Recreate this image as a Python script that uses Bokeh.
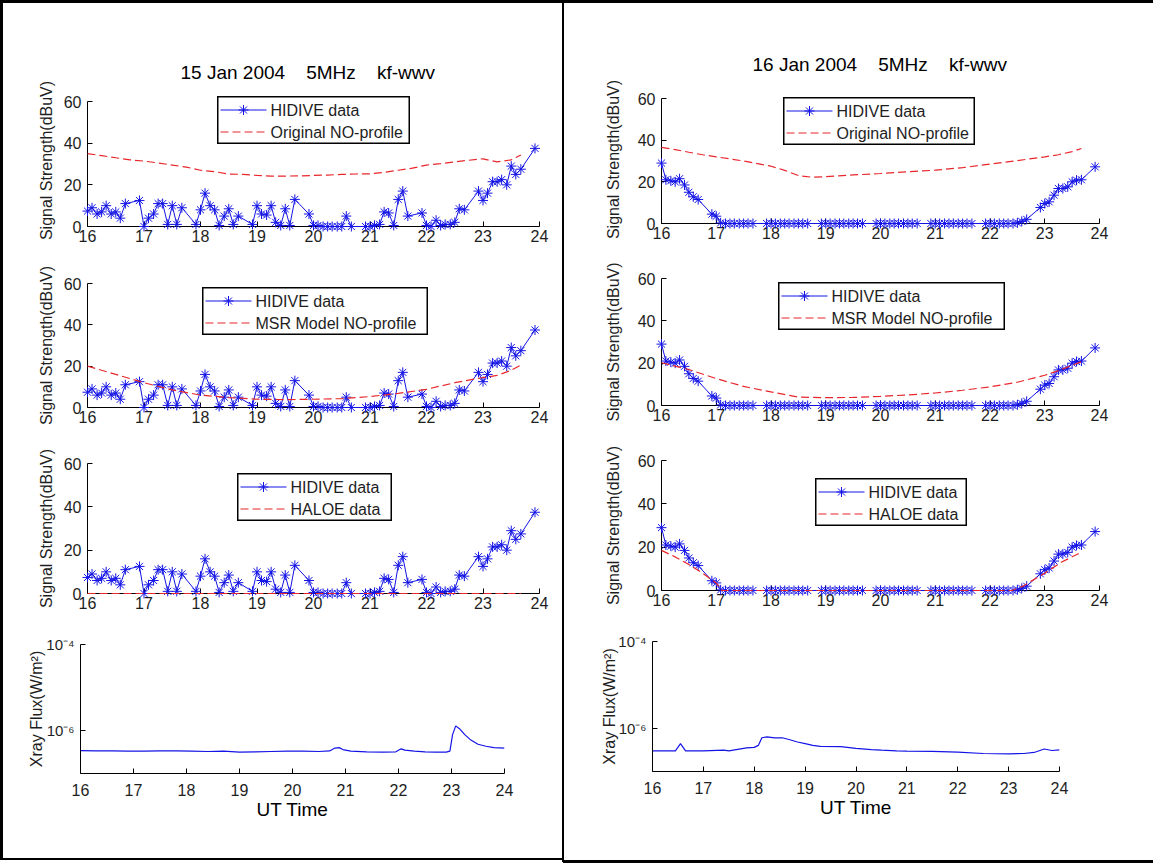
from bokeh.plotting import figure
from bokeh.models import Range1d, FixedTicker, CustomJSTickFormatter, Div
from bokeh.core.properties import value
from bokeh.embed import file_html
from bokeh.resources import INLINE

FONT = "Liberation Sans"
BLUE = "#1414e6"
RED = "#e8262b"
TXT = "#1e1e1e"

hour_ticks = [16, 17, 18, 19, 20, 21, 22, 23, 24]
signal_ticks = [0, 20, 40, 60]
xray_ticks = [1e-6, 1e-4]

titles = ["15 Jan 2004\u00a0\u00a0\u00a0\u00a05MHz\u00a0\u00a0\u00a0\u00a0kf-wwv",
          "16 Jan 2004\u00a0\u00a0\u00a0\u00a05MHz\u00a0\u00a0\u00a0\u00a0kf-wwv"]
signal_label = "Signal Strength(dBuV)"
xray_label = "Xray Flux(W/m\u00b2)"
time_label = "UT Time"
data_name = "HIDIVE data"
model_names = ["Original NO-profile", "MSR Model NO-profile", "HALOE data"]

# HIDIVE sample times (UT hours)
hidive_time = [
    16.00, 16.08, 16.17, 16.25, 16.33, 16.42, 16.50, 16.58, 16.67, 16.92,
    17.00, 17.08, 17.17, 17.25, 17.33, 17.42, 17.50, 17.58, 17.67, 17.92,
    18.00, 18.08, 18.17, 18.25, 18.33, 18.42, 18.50, 18.58, 18.67, 18.92,
    19.00, 19.08, 19.17, 19.25, 19.33, 19.42, 19.50, 19.58, 19.67, 19.92,
    20.00, 20.08, 20.17, 20.25, 20.33, 20.42, 20.50, 20.58, 20.67, 20.92,
    21.00, 21.08, 21.17, 21.25, 21.33, 21.42, 21.50, 21.58, 21.67, 21.92,
    22.00, 22.08, 22.17, 22.25, 22.33, 22.42, 22.50, 22.58, 22.67, 22.92,
    23.00, 23.08, 23.17, 23.25, 23.33, 23.42, 23.50, 23.58, 23.67, 23.92,
]
hidive_jan15 = [
    7.4, 9, 6, 7, 10, 6, 7, 4, 11, 12.5,
    0, 4, 6, 11, 11, 1, 10, 1, 9, 1,
    8, 16, 10, 8, 0.5, 5, 8.5, 1, 5, 1,
    10, 6, 5.5, 10, 2, 0.5, 8.5, 0.5, 13, 6,
    0.5, 0.5, 0, 0, 0, 0, 0, 5, 0, 0,
    0, 0.5, 1, 7, 6.5, 0.5, 13, 17, 5, 6.5,
    0.5, 0, 3, 0.5, 1, 1, 2, 8.5, 8, 17,
    12.5, 16, 21.5, 21.5, 22.5, 20, 29, 25, 27.5, 37.5,
]
hidive_jan16 = [
    29, 21, 20.5, 20, 21.5, 18.5, 15, 12.8, 11.5, 4.5,
    3.5, 0.3, 0, 0, 0, 0, 0, 0, 0, 0,
    0, 0, 0, 0, 0, 0, 0, 0, 0, 0,
    0, 0, 0, 0, 0, 0, 0, 0, 0, 0,
    0, 0, 0, 0, 0, 0, 0, 0, 0, 0,
    0, 0, 0, 0, 0, 0, 0, 0, 0, 0,
    0, 0, 0, 0, 0, 0, 0.3, 1, 2, 7.7,
    9.6, 10.4, 13.6, 16.8, 16.8, 17.6, 20, 20.8, 21, 27.2,
]

orig_time_jan15 = [16.0, 16.25, 16.5, 16.75, 17.0, 17.25, 17.5, 17.75, 18.0, 18.25, 18.5, 18.75,
                   19.0, 19.25, 19.5, 19.75, 20.0, 20.25, 20.5, 20.75, 21.0, 21.25, 21.5, 21.75,
                   22.0, 22.25, 22.5, 22.75, 23.0, 23.25, 23.5, 23.67]
orig_jan15 = [35, 34, 33, 32, 31.4, 30.5, 29.5, 28.5, 27, 26.3, 25.2, 25,
              24.5, 24.2, 24.2, 24.3, 24.5, 24.7, 25, 25.2, 25.3, 26, 27, 28,
              29.5, 30.2, 31, 31.8, 32.5, 31, 32, 34.3]
msr_time_jan15 = [16, 16.5, 17, 17.5, 18, 18.5, 19, 19.5, 20, 20.5, 21, 21.5, 22, 22.5, 23, 23.25, 23.5, 23.67]
msr_jan15 = [20, 16, 12, 8.5, 6, 4.8, 4, 3.8, 4, 4.3, 5.3, 6.8, 8.8, 12, 14.5, 15.5, 18, 20.5]
haloe_time_jan15 = [16.0, 20.0, 23.67]
haloe_jan15 = [0, 0, 0]

orig_time_jan16 = [16, 16.25, 16.5, 16.75, 17, 17.5, 18, 18.25, 18.5, 18.75, 19, 19.5, 20, 20.5,
                   21, 21.5, 22, 22.5, 23, 23.25, 23.5, 23.67]
orig_jan16 = [36.5, 35.5, 34.2, 33, 32, 30, 27.5, 25.5, 23, 22.2, 22.5, 23.3, 24, 24.8,
              25.6, 26.8, 28.5, 30.2, 32, 33, 34.5, 36]
msr_time_jan16 = [16, 16.5, 17, 17.5, 18, 18.5, 19, 19.5, 20, 20.5, 21, 21.5, 22, 22.5, 23, 23.25, 23.5, 23.67]
msr_jan16 = [20.2, 17, 12.7, 9, 6.4, 4, 3.7, 3.8, 4.3, 5, 5.9, 7.2, 8.8, 11, 14.3, 16.5, 19, 20.7]
haloe_time_jan16 = [16, 16.25, 16.5, 16.75, 17, 17.1, 22.4, 22.6, 23, 23.3, 23.67]
haloe_jan16 = [18.5, 15.5, 12, 8, 3.5, 0, 0, 2, 8, 13, 17.7]

xray_time_jan15 = [16.0, 16.3, 16.6, 16.9, 17.2, 17.5, 17.8, 18.1, 18.4, 18.7, 19.0, 19.3, 19.6, 19.9,
                   20.2, 20.5, 20.7, 20.8, 20.88, 20.95, 21.1, 21.4, 21.7, 21.95, 22.05, 22.12, 22.3,
                   22.5, 22.7, 22.9, 22.97, 23.02, 23.08, 23.15, 23.25, 23.35, 23.5, 23.65, 23.8, 24.0]
xray_jan15 = [3.4e-7, 3.35e-7, 3.35e-7, 3.3e-7, 3.3e-7, 3.35e-7, 3.35e-7, 3.3e-7, 3.25e-7, 3.3e-7,
              3.15e-7, 3.2e-7, 3.25e-7, 3.3e-7, 3.3e-7, 3.25e-7, 3.35e-7, 3.9e-7, 4.0e-7, 3.6e-7,
              3.3e-7, 3.2e-7, 3.15e-7, 3.2e-7, 3.75e-7, 3.5e-7, 3.3e-7, 3.2e-7, 3.15e-7, 3.15e-7,
              3.3e-7, 8e-7, 1.28e-6, 1.1e-6, 8e-7, 6.2e-7, 4.8e-7, 4.3e-7, 4.0e-7, 3.9e-7]
xray_time_jan16 = [16.0, 16.3, 16.45, 16.55, 16.65, 17.0, 17.4, 17.5, 17.85, 18.0, 18.08, 18.15, 18.25,
                   18.4, 18.55, 18.7, 18.85, 19.0, 19.15, 19.3, 19.7, 20.0, 20.3, 20.5, 20.8, 21.0,
                   21.5, 22.0, 22.5, 23.0, 23.3, 23.5, 23.7, 23.85, 24.0]
xray_jan16 = [3.0e-7, 3.0e-7, 3.0e-7, 4.4e-7, 3.0e-7, 3.0e-7, 3.1e-7, 3.0e-7, 3.5e-7, 3.6e-7,
              4.0e-7, 6.0e-7, 6.3e-7, 6.0e-7, 6.0e-7, 5.4e-7, 4.8e-7, 4.4e-7, 4.0e-7, 3.8e-7,
              3.75e-7, 3.4e-7, 3.2e-7, 3.1e-7, 3.0e-7, 2.95e-7, 2.9e-7, 2.8e-7, 2.6e-7, 2.55e-7,
              2.6e-7, 2.75e-7, 3.3e-7, 3.05e-7, 3.15e-7]

SUP_JS = """
const e = Math.round(Math.log10(tick));
const sup = {"-": "\u207b", "0": "\u2070", "1": "\u00b9", "2": "\u00b2", "3": "\u00b3",
             "4": "\u2074", "5": "\u2075", "6": "\u2076", "7": "\u2077", "8": "\u2078", "9": "\u2079"};
return "10" + String(e).split("").map(c => sup[c]).join("");
"""


def absolute(left, top):
    return {"position": "absolute", "left": f"{left}px", "top": f"{top}px"}


def base_fig(frame, pads, log=False, ytop=60):
    fl, ft, fw, fh = frame
    pl, pt, pr, pb = pads
    kw = dict(width=pl + fw + pr, height=pt + fh + pb, min_border_left=pl, min_border_right=pr,
              min_border_top=pt, min_border_bottom=pb, output_backend="svg",
              toolbar_location=None, tools="", x_range=Range1d(16, 24))
    if log:
        p = figure(y_axis_type="log", y_range=Range1d(1e-7, 1e-4), **kw)
    else:
        p = figure(y_range=Range1d(0, ytop), **kw)
    p.styles = absolute(fl - pl, ft - pt)
    p.xgrid.visible = False
    p.ygrid.visible = False
    p.outline_line_color = None
    p.background_fill_color = None
    p.border_fill_color = None
    p.xaxis.ticker = FixedTicker(ticks=hour_ticks, minor_ticks=[])
    if log:
        p.yaxis.ticker = FixedTicker(ticks=xray_ticks, minor_ticks=[])
        p.yaxis.formatter = CustomJSTickFormatter(code=SUP_JS)
    else:
        p.yaxis.ticker = FixedTicker(ticks=signal_ticks, minor_ticks=[])
        p.yaxis.bounds = (0, 60)
    for ax in (p.xaxis[0], p.yaxis[0]):
        ax.axis_line_color = "black"
        ax.axis_line_width = 1
        ax.major_tick_line_color = "black"
        ax.major_tick_in = 5
        ax.major_tick_out = 0
        ax.minor_tick_line_color = None
        ax.major_label_text_font = FONT
        ax.major_label_text_font_size = "16px"
        ax.major_label_text_color = TXT
        ax.axis_label_text_font = FONT
        ax.axis_label_text_font_style = "normal"
        ax.axis_label_text_color = TXT
    p.xaxis.major_label_standoff = 3
    p.yaxis.major_label_standoff = 6
    return p


def legend_box(box, name):
    """A MATLAB-style legend box drawn as its own small figure (pixel coordinates)."""
    left, top, w, h = box
    p = figure(width=w, height=h, x_range=Range1d(0, w), y_range=Range1d(h, 0),
               min_border=0, x_axis_type=None, y_axis_type=None,
               output_backend="svg", toolbar_location=None, tools="")
    p.styles = absolute(left, top)
    p.xgrid.visible = False
    p.ygrid.visible = False
    p.background_fill_color = "white"
    p.border_fill_color = "white"
    p.outline_line_color = "black"
    p.outline_line_width = 2
    r1, r2 = 13.5, 35.5
    p.line([3, 49], [r1, r1], line_color=BLUE, line_width=1)
    p.scatter([26], [r1], marker="asterisk", size=10, line_color=BLUE, line_width=1)
    p.line([3, 49], [r2, r2], line_color=RED, line_width=1.2, line_dash="8 4")
    p.text([53, 53], [r1, r2], text=[data_name, name], text_baseline="middle",
           text_align="left", text_font=value(FONT), text_font_size="16px", text_color=TXT)
    return p


def signal_fig(frame, pads, hid, mt, mv, ylab_standoff,
               title=None, title_standoff=10, title_offset=0, ytop=60):
    p = base_fig(frame, pads, ytop=ytop)
    p.yaxis.axis_label = signal_label
    p.yaxis.axis_label_text_font_size = "16px"
    p.yaxis.axis_label_standoff = ylab_standoff
    if title:
        p.title.text = title
        p.title.align = "left"
        p.title.offset = title_offset
        p.title.text_font = FONT
        p.title.text_font_size = "19px"
        p.title.text_font_style = "normal"
        p.title.text_color = "black"
        p.title.standoff = title_standoff
    p.line(hidive_time, hid, line_color=BLUE, line_width=1, level="annotation")
    p.scatter(hidive_time, hid, marker="asterisk", size=10, line_color=BLUE,
              line_width=1, level="annotation")
    p.line(mt, mv, line_color=RED, line_width=1.2, line_dash="8 4", level="annotation")
    return p


def xray_fig(frame, pads, xt, xv, ylab_standoff):
    p = base_fig(frame, pads, log=True)
    p.yaxis.axis_label = xray_label
    p.yaxis.axis_label_text_font_size = "16px"
    p.yaxis.axis_label_standoff = ylab_standoff
    p.yaxis.major_label_text_font_size = "15px"
    p.xaxis.axis_label = time_label
    p.xaxis.axis_label_text_font_size = "19px"
    p.xaxis.axis_label_text_color = "black"
    p.xaxis.axis_label_standoff = 0
    p.xaxis.major_label_standoff = 10
    p.line(xt, xv, line_color=BLUE, line_width=1.2)
    return p


# left panel (15 Jan)
L1 = signal_fig((87, 94, 452, 132), (84, 91, 16, 28), hidive_jan15, orig_time_jan15, orig_jan15, 6,
                title=titles[0], title_standoff=24, title_offset=93, ytop=63.36)
L2 = signal_fig((87, 283, 452, 124), (84, 28, 16, 26), hidive_jan15, msr_time_jan15, msr_jan15, 6)
L3 = signal_fig((87, 463, 452, 130), (84, 28, 16, 26), hidive_jan15, haloe_time_jan15, haloe_jan15, 6)
L4 = xray_fig((80, 644, 424, 129), (77, 20, 40, 75), xray_time_jan15, xray_jan15, -2)

# right panel (16 Jan)
R1 = signal_fig((661, 95, 438, 128), (95, 92, 40, 28), hidive_jan16, orig_time_jan16, orig_jan16, 13,
                title=titles[1], title_standoff=42, title_offset=91, ytop=61.44)
R2 = signal_fig((661, 278, 438, 127), (95, 28, 40, 26), hidive_jan16, msr_time_jan16, msr_jan16, 13)
R3 = signal_fig((661, 460, 438, 130), (95, 28, 40, 26), hidive_jan16, haloe_time_jan16, haloe_jan16, 13)
R4 = xray_fig((652, 641, 407, 130), (86, 20, 40, 75), xray_time_jan16, xray_jan16, -3)

legends = [
    legend_box((217, 96, 193, 48), model_names[0]),
    legend_box((202, 287, 226, 48), model_names[1]),
    legend_box((237, 473, 155, 48), model_names[2]),
    legend_box((783, 97, 192, 48), model_names[0]),
    legend_box((778, 282, 227, 48), model_names[1]),
    legend_box((815, 478, 152, 48), model_names[2]),
]


def rule(x, y, w, h):
    return Div(text="", width=w, height=h,
               styles={"position": "absolute", "left": f"{x}px", "top": f"{y}px",
                       "background-color": "black", "padding": "0px", "margin": "0px"})


frames = [
    rule(0, 0, 1153, 3),      # top edge
    rule(0, 0, 3, 860),       # left edge
    rule(562, 0, 2, 862),     # divider
    rule(0, 858, 563, 2),     # left bottom
    rule(563, 860, 590, 3),   # right bottom
]

roots = [L1, L2, L3, L4, R1, R2, R3, R4] + legends + frames
open("out.html", "w").write(file_html(roots, INLINE, title="HIDIVE 5MHz kf-wwv"))
